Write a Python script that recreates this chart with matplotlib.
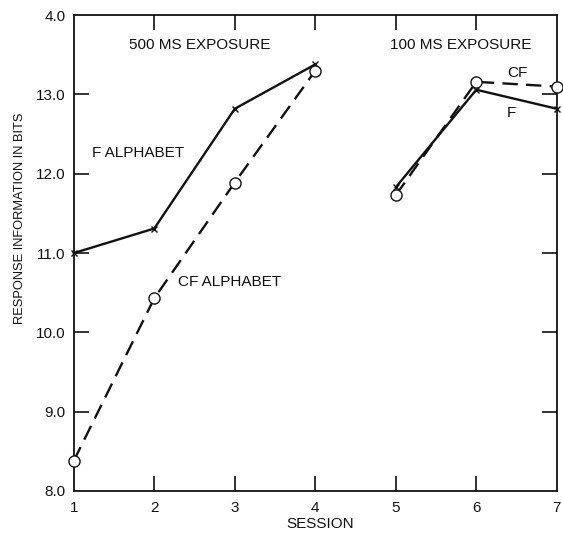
import matplotlib
matplotlib.use("Agg")
import matplotlib.pyplot as plt

# Data
sessions_a = [1, 2, 3, 4]
f_a = [11.0, 11.31, 12.82, 13.38]
cf_a = [8.38, 10.43, 11.89, 13.30]

sessions_b = [5, 6, 7]
f_b = [11.83, 13.06, 12.82]
cf_b = [11.73, 13.16, 13.10]

xticks = [1, 2, 3, 4, 5, 6, 7]
xticklabels = ["1", "2", "3", "4", "5", "6", "7"]
yticks = [8, 9, 10, 11, 12, 13, 14]
yticklabels = ["8.0", "9.0", "10.0", "11.0", "12.0", "13.0", "4.0"]

plt.rcParams['font.family'] = ['Liberation Sans', 'DejaVu Sans']

fig = plt.figure(figsize=(5.63, 5.37), dpi=100)
ax = fig.add_axes([0.131, 0.0857, 0.858, 0.886])

ink = "#111111"
dash = (0, (6.5, 3.5))
lw = 1.7

for xs, fs, cfs in [(sessions_a, f_a, cf_a), (sessions_b, f_b, cf_b)]:
    ax.plot(xs, fs, color=ink, lw=lw, ls="-", marker="x", ms=5, mew=1.0,
            clip_on=False, zorder=3)
    ax.plot(xs, cfs, color=ink, lw=lw, ls=dash, marker="o", ms=8, mew=1.0,
            mfc="white", mec=ink, clip_on=False, zorder=4)

ax.set_xlim(1, 7)
ax.set_ylim(8, 14)
ax.xaxis.remove_overlapping_locs = False
ax.yaxis.remove_overlapping_locs = False
ax.set_xticks(xticks)
ax.set_xticklabels(xticklabels)
ax.set_yticks(yticks)
ax.set_yticklabels(yticklabels)
ax.set_xticks(xticks[1:-1], minor=True)
ax.set_yticks(yticks[1:-1], minor=True)
ax.tick_params(axis="x", which="major", length=0, colors=ink, labelsize=11, pad=7)
ax.tick_params(axis="y", which="major", length=0, colors=ink, labelsize=11, pad=6)
ax.tick_params(which="minor", direction="in", length=11, width=1.2, colors=ink,
               top=True, right=True, labelbottom=False, labelleft=False)
for s in ax.spines.values():
    s.set_linewidth(1.3)
    s.set_color(ink)

fig.text(320 / 563, 1 - 524 / 537, "SESSION", fontsize=11, ha="center",
         va="center", color=ink)
fig.text(20 / 563, 1 - 218 / 537, "RESPONSE INFORMATION IN BITS", fontsize=9.3,
         rotation=90, ha="center", va="center", color=ink)

ax.text(2.57, 13.62, "500 MS EXPOSURE", fontsize=11, ha="center", va="center", color=ink)
ax.text(5.81, 13.62, "100 MS EXPOSURE", fontsize=11, ha="center", va="center", color=ink)
ax.text(1.23, 12.26, "F ALPHABET", fontsize=11, ha="left", va="center", color=ink)
ax.text(2.30, 10.64, "CF ALPHABET", fontsize=11, ha="left", va="center", color=ink)
ax.text(6.51, 13.27, "CF", fontsize=11, ha="center", va="center", color=ink)
ax.text(6.44, 12.77, "F", fontsize=11, ha="center", va="center", color=ink)

fig.savefig("out.png", dpi=100, facecolor="white")
